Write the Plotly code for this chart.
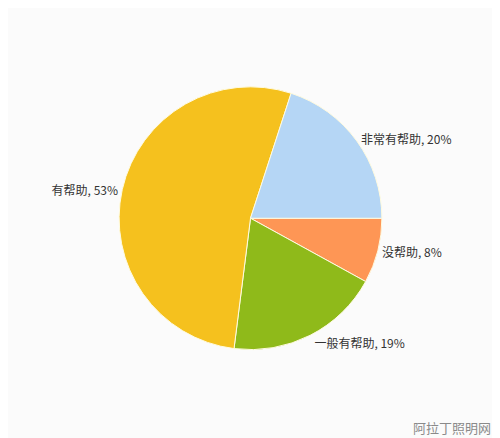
import plotly.graph_objects as go

labels = ["没帮助", "一般有帮助", "有帮助", "非常有帮助"]
values = [8, 19, 53, 20]
colors = ["#fe9655", "#8fba1a", "#f5c11e", "#b5d6f5"]

fig = go.Figure(go.Pie(
    labels=labels,
    values=values,
    sort=False,
    direction="clockwise",
    rotation=90,
    marker=dict(colors=colors, line=dict(color="#fffbe0", width=1)),
    texttemplate="%{label}, %{value}%",
    textposition="outside",
    textfont=dict(family="Noto Sans CJK SC", size=12, color="#333333"),
    domain=dict(x=[0.22, 0.75], y=[0.22, 0.82]),
    automargin=False,
    showlegend=False,
    hoverinfo="label+percent",
))

fig.add_annotation(
    text="阿拉丁照明网", x=0.97, y=0.015, xref="paper", yref="paper",
    xanchor="right", yanchor="bottom", showarrow=False,
    font=dict(family="Noto Sans CJK SC", size=13, color="#8a8a8a"),
)

fig.update_layout(
    width=500, height=438,
    margin=dict(l=0, r=0, t=0, b=0),
    paper_bgcolor="#fbfbfb",
    plot_bgcolor="#fbfbfb",
)

fig.write_html("out.html")
